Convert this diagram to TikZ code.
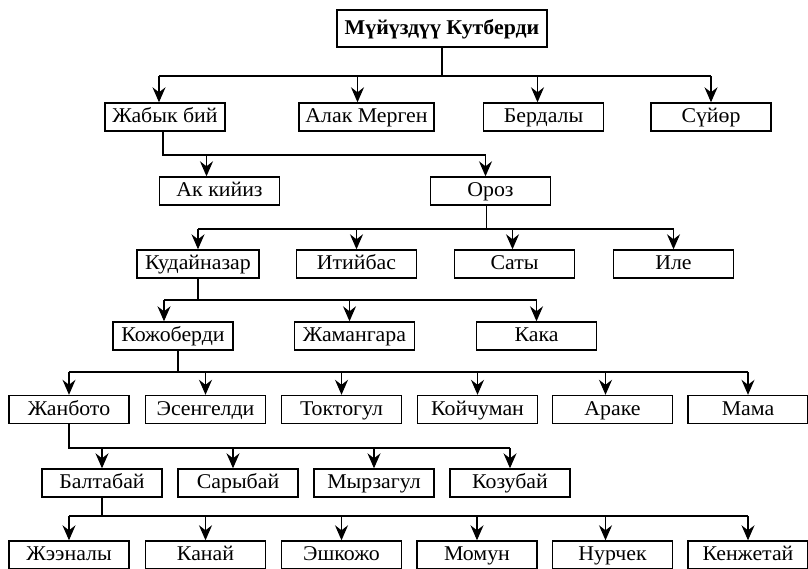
\documentclass[tikz,border=0pt]{standalone}
\usepackage{fontspec}
\setmainfont{Liberation Serif}[FakeStretch=1.04]
\usetikzlibrary{calc,arrows.meta}

\tikzset{
  pers/.style={draw,line width=0.7pt,minimum width=60pt,minimum height=14pt,inner sep=0pt,text height=7.5pt,text depth=2pt,font=\fontsize{10.5}{12}\selectfont},
  arr/.style={-{Stealth[length=7.5pt,width=6.5pt,inset=2.5pt]},line width=0.55pt},
  bus/.style={line width=0.55pt},
}

\begin{document}
\begin{tikzpicture}[x=0.5pt,y=-0.5pt]
  \useasboundingbox (0,0) rectangle (808,568);
  \coordinate (bA) at (0,76);
  \coordinate (bB) at (0,155);
  \coordinate (bC) at (0,229);
  \coordinate (bD) at (0,300);
  \coordinate (bE) at (0,372);
  \coordinate (bF) at (0,448);
  \coordinate (bG) at (0,516);

  \node[pers,font=\fontsize{10.5}{12}\selectfont\bfseries,minimum width=105pt,minimum height=18.5pt] (top) at (442,28.5) {Мүйүздүү Кутберди};

  \node[pers] (jabyk) at (165,117) {Жабык бий};
  \node[pers,minimum width=67.5pt] (alak) at (366.5,117) {Алак Мерген};
  \node[pers] (berdaly) at (543.5,117) {Бердалы};
  \node[pers] (suyor) at (711,117) {Сүйөр};

  \node[pers] (akkiyiz) at (219.5,191) {Ак кийиз};
  \node[pers] (oroz) at (490.5,191) {Ороз};

  \node[pers,minimum width=61pt] (kudai) at (198,264) {Кудайназар};
  \node[pers] (itiybas) at (356.5,264) {Итийбас};
  \node[pers] (saty) at (514.5,264) {Саты};
  \node[pers] (ile) at (673.5,264) {Иле};

  \node[pers] (kojo) at (173,336) {Кожоберди};
  \node[pers] (jaman) at (354.5,336) {Жамангара};
  \node[pers] (kaka) at (536.5,336) {Кака};

  \node[pers] (janboto) at (69,409.5) {Жанбото};
  \node[pers] (esen) at (205.5,409.5) {Эсенгелди};
  \node[pers] (tokto) at (341.5,409.5) {Токтогул};
  \node[pers] (koychu) at (477.5,409.5) {Койчуман};
  \node[pers] (arake) at (612.5,409.5) {Араке};
  \node[pers] (mama) at (748,409.5) {Мама};

  \node[pers] (balta) at (102,483) {Балтабай};
  \node[pers] (sary) at (238,483) {Сарыбай};
  \node[pers] (myrza) at (374,483) {Мырзагул};
  \node[pers] (kozu) at (510,483) {Козубай};

  \node[pers] (jeenaly) at (69,555) {Жээналы};
  \node[pers] (kanay) at (205.5,555) {Канай};
  \node[pers] (eshkojo) at (341.5,555) {Эшкожо};
  \node[pers] (momun) at (477,555) {Момун};
  \node[pers] (nurchek) at (612.5,555) {Нурчек};
  \node[pers] (kenje) at (748,555) {Кенжетай};

  % Мүйүздүү Кутберди
  \draw[bus] (top.south) -- (top.south |- bA);
  \draw[bus] ($(jabyk.north |- bA)+(-6,0)$) -- (suyor.north |- bA);
  \foreach \n/\d in {jabyk/-6,alak/-9,berdaly/-6,suyor/0}
    \draw[arr] ($(\n.north |- bA)+(\d,0)$) -- ($(\n.north)+(\d,0)$);

  % Жабык бий
  \draw[bus] ($(jabyk.south)+(-2,0)$) |- ($(oroz.north |- bB)+(-5,0)$);
  \foreach \n/\d in {akkiyiz/-13,oroz/-5}
    \draw[arr] ($(\n.north |- bB)+(\d,0)$) -- ($(\n.north)+(\d,0)$);

  % Ороз
  \draw[bus] ($(oroz.south)+(-4,0)$) -- ($(oroz.south |- bC)+(-4,0)$);
  \draw[bus] (kudai.north |- bC) -- (ile.north |- bC);
  \foreach \n/\d in {kudai/0,itiybas/0,saty/-2,ile/0}
    \draw[arr] ($(\n.north |- bC)+(\d,0)$) -- ($(\n.north)+(\d,0)$);

  % Кудайназар
  \draw[bus] (kudai.south) -- (kudai.south |- bD);
  \draw[bus] ($(kojo.north |- bD)+(-9,0)$) -- (kaka.north |- bD);
  \foreach \n/\d in {kojo/-9,jaman/-5,kaka/0}
    \draw[arr] ($(\n.north |- bD)+(\d,0)$) -- ($(\n.north)+(\d,0)$);

  % Кожоберди
  \draw[bus] ($(kojo.south)+(5,0)$) -- ($(kojo.south |- bE)+(5,0)$);
  \draw[bus] (janboto.north |- bE) -- (mama.north |- bE);
  \foreach \n/\d in {janboto/0,esen/0,tokto/0,koychu/0,arake/-7,mama/0}
    \draw[arr] ($(\n.north |- bE)+(\d,0)$) -- ($(\n.north)+(\d,0)$);

  % Жанбото
  \draw[bus] (janboto.south) |- (kozu.north |- bF);
  \foreach \n/\d in {balta/0,sary/-5,myrza/0,kozu/0}
    \draw[arr] ($(\n.north |- bF)+(\d,0)$) -- ($(\n.north)+(\d,0)$);

  % Балтабай
  \draw[bus] (balta.south) -- (balta.south |- bG);
  \draw[bus] (jeenaly.north |- bG) -- (kenje.north |- bG);
  \foreach \n/\d in {jeenaly/0,kanay/0,eshkojo/0,momun/0,nurchek/-7,kenje/0}
    \draw[arr] ($(\n.north |- bG)+(\d,0)$) -- ($(\n.north)+(\d,0)$);
\end{tikzpicture}
\end{document}
